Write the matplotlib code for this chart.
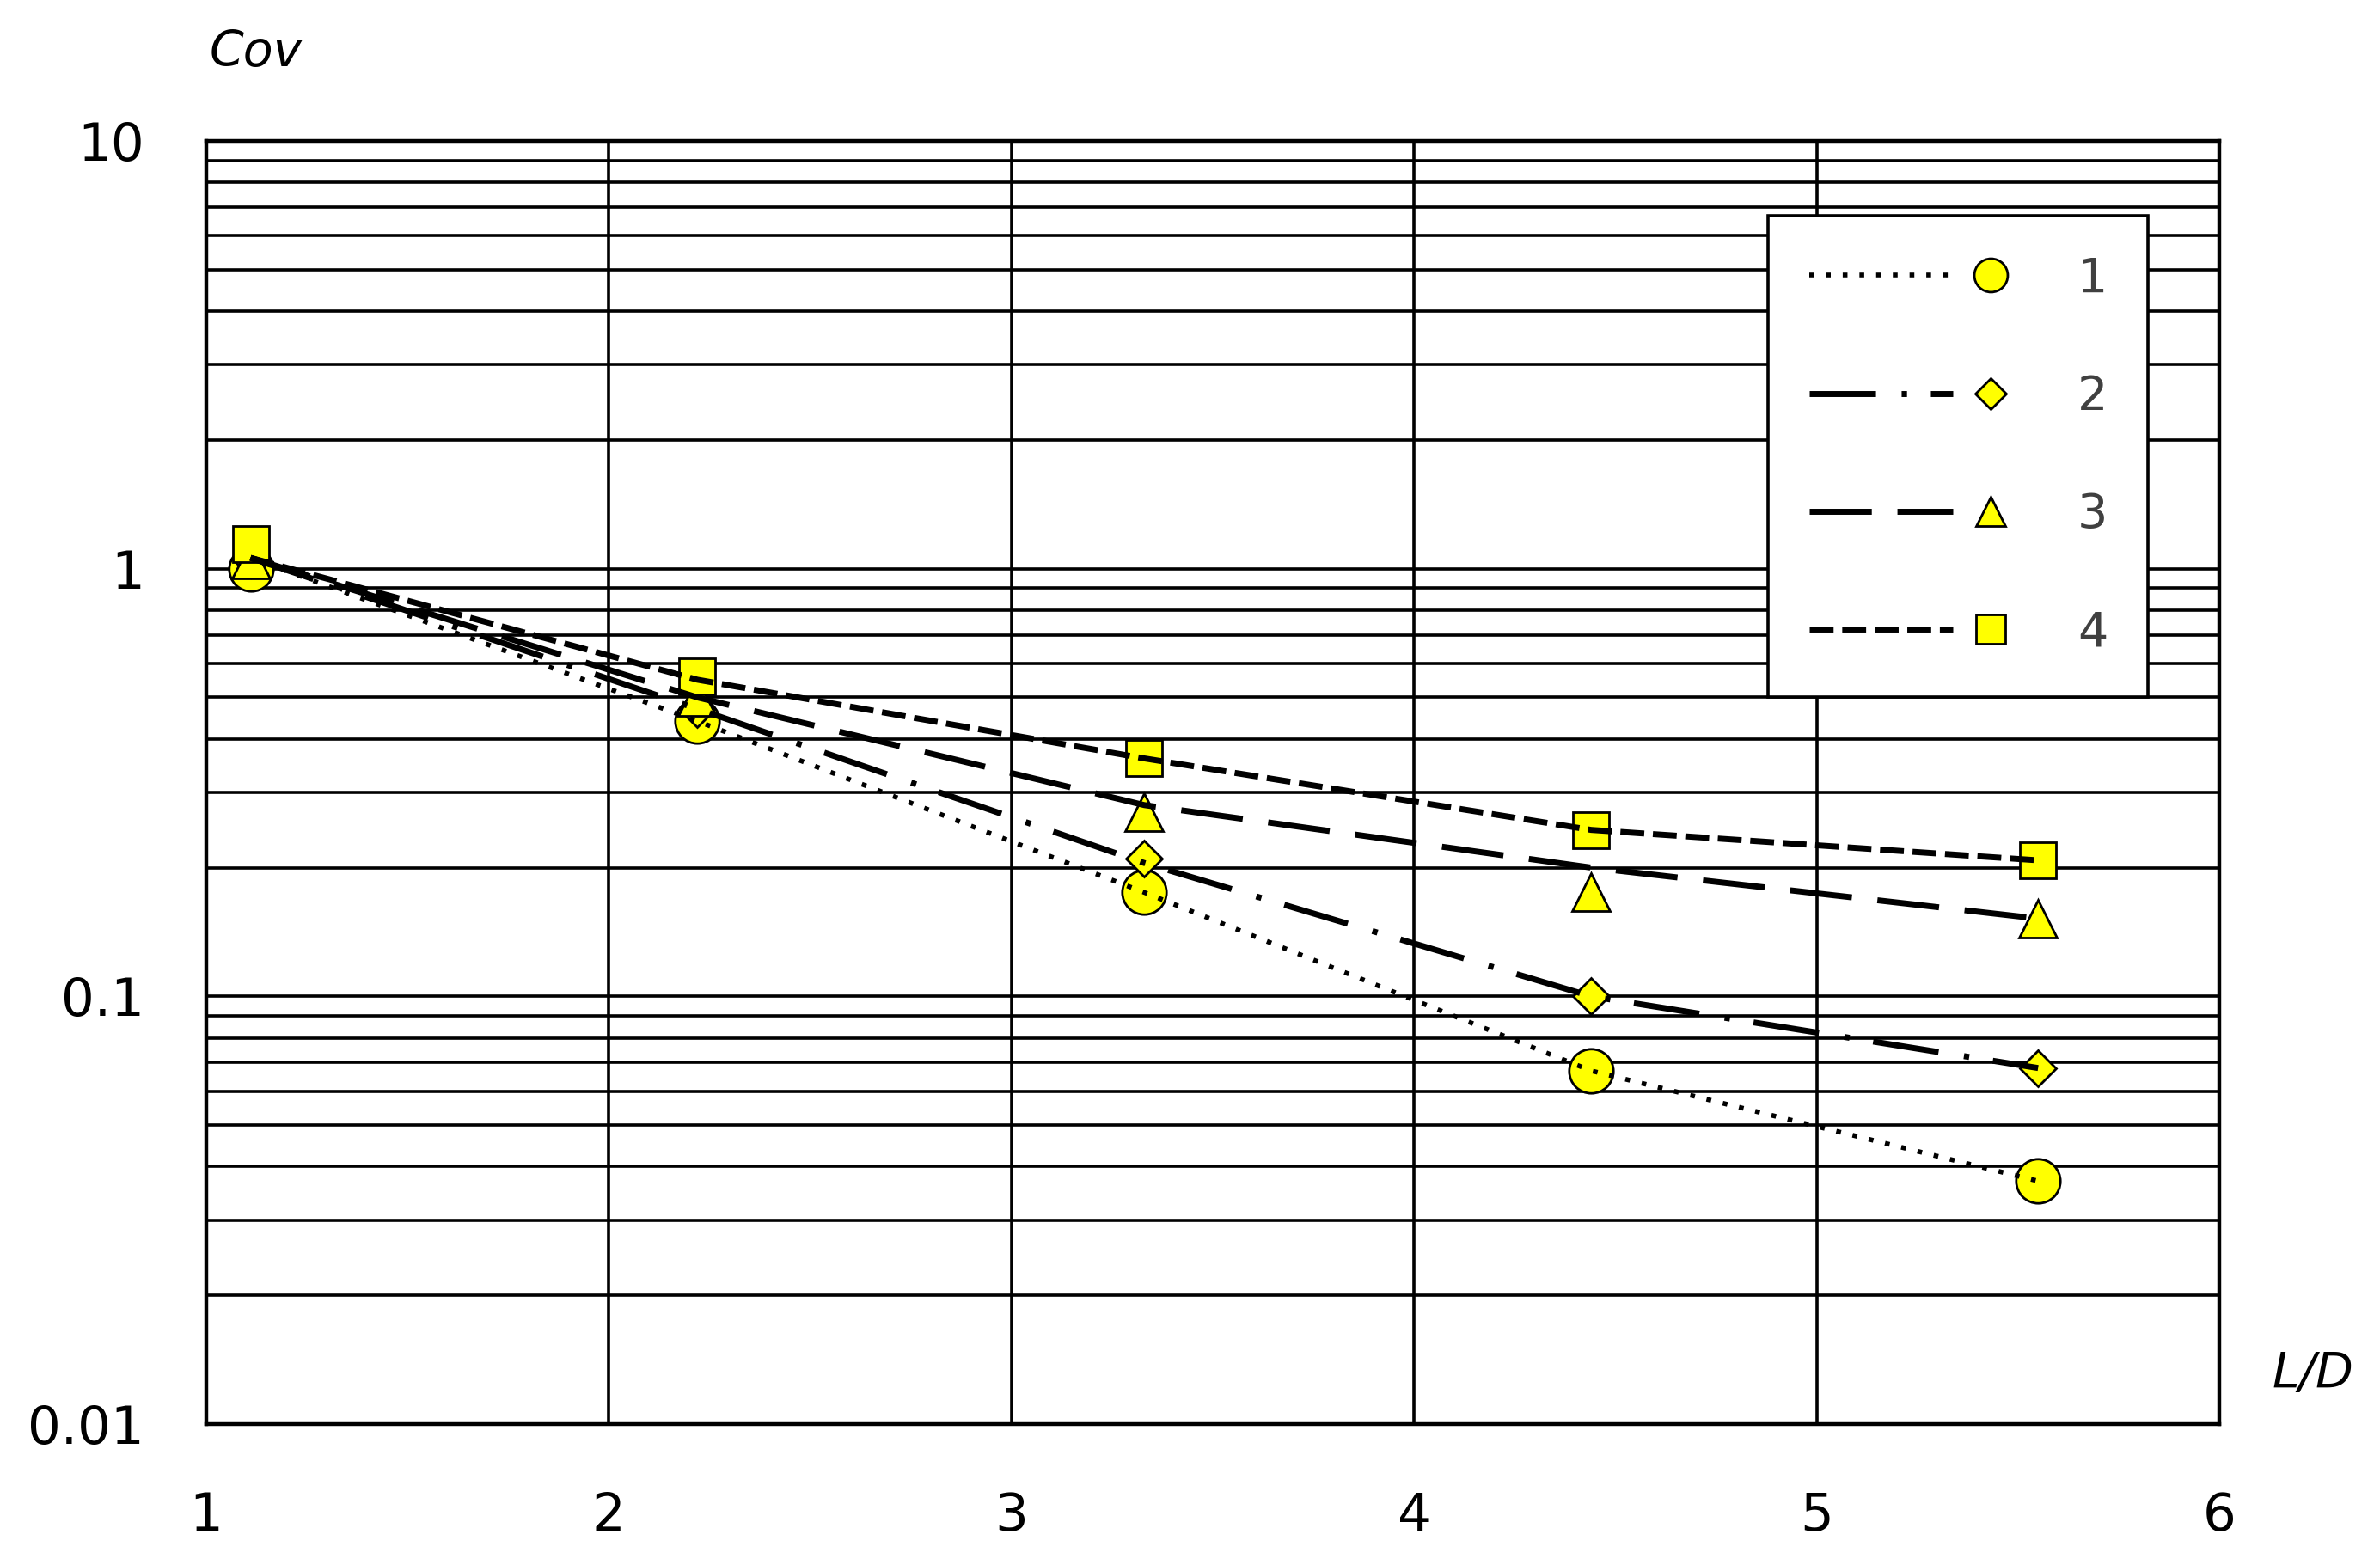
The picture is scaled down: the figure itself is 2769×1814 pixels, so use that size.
import numpy as np
import matplotlib
matplotlib.use('Agg')
import matplotlib.pyplot as plt
from matplotlib.lines import Line2D
from matplotlib.ticker import LogLocator, FixedLocator, NullFormatter
from matplotlib.legend_handler import HandlerTuple

# L/D positions of the measured points
ld = [1.11, 2.22, 3.33, 4.44, 5.55]

# marker values (Cov)
cov_1 = [1.00, 0.44, 0.175, 0.067, 0.037]
cov_2 = [1.05, 0.47, 0.21, 0.100, 0.068]
cov_3 = [1.05, 0.50, 0.27, 0.175, 0.152]
cov_4 = [1.14, 0.56, 0.36, 0.245, 0.208]

# the drawn curves do not go exactly through every marker
line_1 = [1.06, 0.44, 0.175, 0.067, 0.037]
line_2 = [1.06, 0.47, 0.205, 0.100, 0.068]
line_3 = [1.06, 0.50, 0.28, 0.200, 0.152]
line_4 = [1.06, 0.55, 0.36, 0.245, 0.208]

labels = ['1', '2', '3', '4']
x_ticks = [1, 2, 3, 4, 5, 6]
y_ticks = [0.01, 0.1, 1, 10]
y_ticklabels = ['0.01', '0.1', '1', '10']

yellow = '#FFFF00'
lw = 5.0
styles = [
    dict(lw=4.0, dashes=(1.0, 2.5)),
    dict(lw=lw, dashes=(11.1, 4.3, 0.9, 4.0)),
    dict(lw=lw, dashes=(10.4, 4.3)),
    dict(lw=lw, dashes=(4.0, 1.45)),
]
markers = ['o', 'D', '^', 's']
msize_plot = [37, 21, 31, 30]
msize_leg = [28, 18, 25, 25]

fig = plt.figure(figsize=(27.69, 18.14), dpi=100)
ax = fig.add_axes([0.08667, 0.08655, 0.84579, 0.82305])

covs = [cov_1, cov_2, cov_3, cov_4]
lines = [line_1, line_2, line_3, line_4]
for i in range(4):
    ax.plot(ld, covs[i], ls='none', marker=markers[i], ms=msize_plot[i],
            mfc=yellow, mec='black', mew=2.0, zorder=3)
    ax.plot(ld, lines[i], color='black', zorder=4, **styles[i])

ax.set_yscale('log')
ax.set_xlim(1, 6)
ax.set_ylim(0.01, 10)
ax.xaxis.set_major_locator(FixedLocator(x_ticks))
ax.set_xticklabels([str(v) for v in x_ticks])
ax.yaxis.set_major_locator(FixedLocator(y_ticks))
ax.set_yticklabels(y_ticklabels)
ax.yaxis.set_minor_locator(LogLocator(base=10, subs=range(2, 10)))
ax.yaxis.set_minor_formatter(NullFormatter())

ax.set_axisbelow(True)
ax.grid(True, which='major', axis='x', color='black', lw=2.6)
ax.grid(True, which='both', axis='y', color='black', lw=2.6)
ax.tick_params(which='both', length=0)
ax.tick_params(axis='y', labelsize=44, pad=52)
ax.tick_params(axis='x', labelsize=44, pad=56)
for s in ax.spines.values():
    s.set_linewidth(3.2)

fig.text(0.0881, 0.966, 'Cov', fontsize=41, style='italic', ha='left', va='center')
fig.text(0.9548, 0.118, 'L/D', fontsize=41, style='italic', ha='left', va='center')

handles = []
for i in range(4):
    h_line = Line2D([], [], color='black', **styles[i])
    h_mark = Line2D([], [], ls='none', marker=markers[i], ms=msize_leg[i],
                    mfc=yellow, mec='black', mew=2.0)
    handles.append((h_line, h_mark))

leg = ax.legend(handles, labels, handler_map={tuple: HandlerTuple(ndivide=None, pad=-0.72)},
                loc='upper left', bbox_to_anchor=(0.776, 0.942), borderaxespad=0,
                fontsize=40, handlelength=5.32, handletextpad=0.3, labelspacing=1.5,
                borderpad=0.85, frameon=True, fancybox=False, edgecolor='black',
                framealpha=1, labelcolor='#404040')
leg.get_frame().set_linewidth(2.6)

fig.savefig('out.png', dpi=100)
